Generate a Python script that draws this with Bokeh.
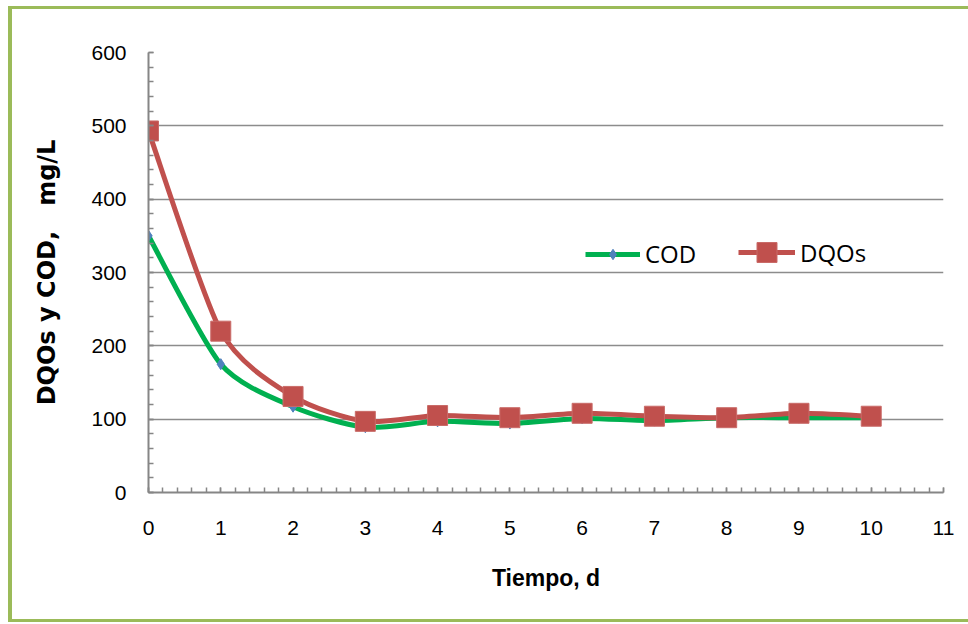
from bokeh.plotting import figure
from bokeh.models import Legend, LegendItem, Range1d, FixedTicker, ColumnDataSource
from bokeh.layouts import column
from bokeh.embed import file_html
from bokeh.resources import INLINE

# ---- data ----
tiempo = [0, 1, 2, 3, 4, 5, 6, 7, 8, 9, 10]
cod = [350, 175, 117, 89, 97, 94, 101, 98, 102, 102, 102]
dqos = [493, 220, 131, 97, 105, 102, 108, 104, 102, 108, 104]
x_ticks = list(range(0, 12))
y_ticks = [0, 100, 200, 300, 400, 500, 600]

GREEN = "#00B050"
RED = "#C0504D"
BLUE = "#4F81BD"
GRID = "#8C8C8C"
TICK_FONT = "Liberation Sans"
SMOOTH = 1 / 8


def smooth_segments(xs, ys):
    n = len(xs)
    out = dict(x0=[], y0=[], x1=[], y1=[], cx0=[], cy0=[], cx1=[], cy1=[])
    for i in range(n - 1):
        px, py = (xs[i - 1], ys[i - 1]) if i > 0 else (xs[i], ys[i])
        nx, ny = (xs[i + 2], ys[i + 2]) if i + 2 < n else (xs[i + 1], ys[i + 1])
        out["x0"].append(xs[i]); out["y0"].append(ys[i])
        out["x1"].append(xs[i + 1]); out["y1"].append(ys[i + 1])
        out["cx0"].append(xs[i] + (xs[i + 1] - px) * SMOOTH)
        out["cy0"].append(ys[i] + (ys[i + 1] - py) * SMOOTH)
        out["cx1"].append(xs[i + 1] - (nx - xs[i]) * SMOOTH)
        out["cy1"].append(ys[i + 1] - (ny - ys[i]) * SMOOTH)
    return ColumnDataSource(out)


p = figure(width=956, height=610, output_backend="svg", toolbar_location=None,
           x_range=Range1d(0, 11), y_range=Range1d(0, 600),
           min_border_left=136, min_border_right=25, min_border_top=43, min_border_bottom=127)
p.outline_line_color = None
p.background_fill_color = "white"
p.border_fill_color = "white"

# grid
p.xgrid.visible = False
p.ygrid.grid_line_color = GRID
p.ygrid.grid_line_width = 1.5
p.ygrid.ticker = FixedTicker(ticks=y_ticks)

# axes
for ax in (p.xaxis[0], p.yaxis[0]):
    ax.axis_line_color = "#868686"
    ax.axis_line_width = 2
    ax.major_tick_line_color = "#868686"
    ax.minor_tick_line_color = "#868686"
    ax.major_tick_line_width = 1.5
    ax.minor_tick_line_width = 1.5
    ax.major_tick_in = 5
    ax.major_tick_out = 0
    ax.minor_tick_in = 5
    ax.minor_tick_out = 0
    ax.major_label_text_font = TICK_FONT
    ax.major_label_text_font_size = "21px"
    ax.major_label_text_color = "black"
    ax.axis_label_text_color = "black"
    ax.axis_label_text_font_style = "bold"

p.xaxis.ticker = FixedTicker(ticks=x_ticks, minor_ticks=[i / 5 for i in range(0, 56)])
p.yaxis.ticker = FixedTicker(ticks=y_ticks, minor_ticks=list(range(0, 601, 20)))
p.xaxis.major_label_standoff = 28
p.yaxis.major_label_standoff = 22
p.xaxis.axis_label = "Tiempo, d"
p.xaxis.axis_label_text_font = TICK_FONT
p.xaxis.axis_label_text_font_size = "23px"
p.xaxis.axis_label_standoff = 27
p.yaxis.axis_label = "DQOs y COD,\u00a0\u00a0 mg/L"
p.yaxis.axis_label_text_font = "DejaVu Sans"
p.yaxis.axis_label_text_font_size = "24px"
p.yaxis.axis_label_standoff = 27

# series
cod_src = smooth_segments(tiempo, cod)
dqo_src = smooth_segments(tiempo, dqos)
p.bezier(x0="x0", y0="y0", x1="x1", y1="y1", cx0="cx0", cy0="cy0", cx1="cx1", cy1="cy1",
         source=cod_src, line_color=GREEN, line_width=5)
cod_m = p.scatter(tiempo, cod, marker="diamond", size=11, fill_color=BLUE, line_color=BLUE)
p.bezier(x0="x0", y0="y0", x1="x1", y1="y1", cx0="cx0", cy0="cy0", cx1="cx1", cy1="cy1",
         source=dqo_src, line_color=RED, line_width=5)
dqo_m = p.scatter(tiempo, dqos, marker="square", size=20, fill_color=RED, line_color="#C96B68", line_width=1)

# legend line proxies (single point -> draws nothing on the plot)
cod_l = p.line(tiempo[:1], cod[:1], line_color=GREEN, line_width=5)
dqo_l = p.line(tiempo[:1], dqos[:1], line_color=RED, line_width=5)

common = dict(orientation="horizontal", padding=0, margin=0, label_standoff=5,
              border_line_alpha=0, background_fill_alpha=0,
              label_text_font="Open Sans", label_text_font_size="24px",
              label_text_color="black")
leg_cod = Legend(items=[LegendItem(label="COD", renderers=[cod_l, cod_m])],
                 location=(437, 222), glyph_width=55, glyph_height=26, **common)
leg_dqo = Legend(items=[LegendItem(label="DQOs", renderers=[dqo_l, dqo_m])],
                 location=(590, 215), glyph_width=57, glyph_height=50, **common)
p.add_layout(leg_cod, "center")
p.add_layout(leg_dqo, "center")

layout = column(p, styles={"border-left": "4px solid #9BBB59",
                           "border-top": "3px solid #9BBB59",
                           "border-bottom": "3px solid #9BBB59",
                           "margin-left": "8px", "margin-top": "6px"})

open("out.html", "w").write(file_html(layout, INLINE))
